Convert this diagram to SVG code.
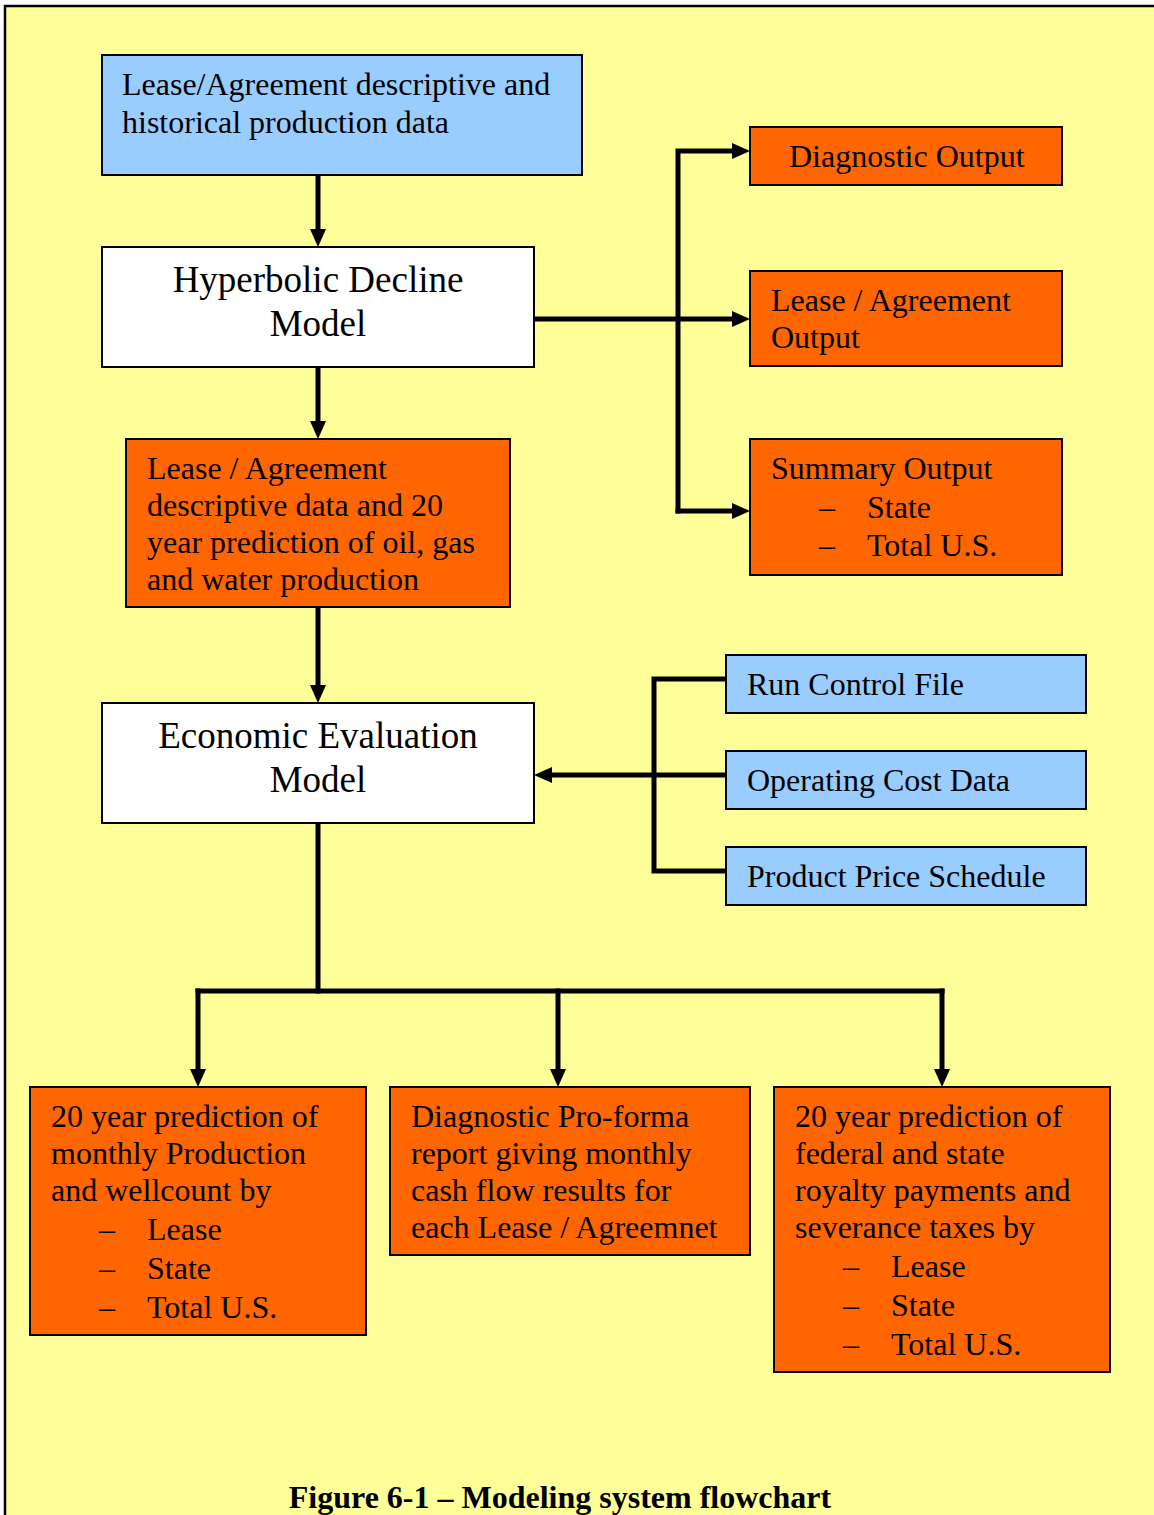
<svg xmlns="http://www.w3.org/2000/svg" width="1154" height="1515" viewBox="0 0 1154 1515">
<style>
.box{stroke:#000;stroke-width:2}
.blue{fill:#99CCFF}
.orange{fill:#FF6600}
.white{fill:#FFFFFF}
text{font-family:"Liberation Serif","Times New Roman",serif;fill:#000}
.t{font-size:32px}
.big{font-size:37px}
.cap{font-size:32px;font-weight:bold}
.conn{fill:none;stroke:#000;stroke-width:5;stroke-linejoin:miter;stroke-linecap:square}
</style>
<defs>
<marker id="ah" viewBox="0 0 18 16" refX="8" refY="8" markerWidth="18" markerHeight="16" markerUnits="userSpaceOnUse" orient="auto">
<path d="M0,0 L18,8 L0,16 z" fill="#000"/>
</marker>
</defs>
<rect x="0" y="0" width="1154" height="1515" fill="#FFFFFF"/>
<rect x="5" y="6" width="1170" height="1530" fill="#FFFF99" stroke="#000" stroke-width="2.5"/>

<g id="connectors">
<path class="conn" d="M318,175 V237" marker-end="url(#ah)"/>
<path class="conn" d="M318,367 V429" marker-end="url(#ah)"/>
<path class="conn" d="M318,607 V693" marker-end="url(#ah)"/>
<path class="conn" d="M534,319 H740" marker-end="url(#ah)"/>
<path class="conn" d="M678,511 V151 H740" marker-end="url(#ah)"/>
<path class="conn" d="M678,511 H740" marker-end="url(#ah)"/>
<path class="conn" d="M726,679 H654 V871 H726"/>
<path class="conn" d="M726,775 H544" marker-end="url(#ah)"/>
<path class="conn" d="M318,823 V991"/>
<path class="conn" d="M198,991 H942"/>
<path class="conn" d="M198,991 V1077" marker-end="url(#ah)"/>
<path class="conn" d="M558,991 V1077" marker-end="url(#ah)"/>
<path class="conn" d="M942,991 V1077" marker-end="url(#ah)"/>
</g>

<g id="n-input">
<rect class="box blue" x="102" y="55" width="480" height="120"/>
<text class="t" x="122" y="95">Lease/Agreement descriptive and</text>
<text class="t" x="122" y="133">historical production data</text>
</g>
<g id="n-hyperbolic">
<rect class="box white" x="102" y="247" width="432" height="120"/>
<text class="big" x="318" y="292" text-anchor="middle">Hyperbolic Decline</text>
<text class="big" x="318" y="336" text-anchor="middle">Model</text>
</g>
<g id="n-prediction">
<rect class="box orange" x="126" y="439" width="384" height="168"/>
<text class="t" x="147" y="479">Lease / Agreement</text>
<text class="t" x="147" y="516">descriptive data and 20</text>
<text class="t" x="147" y="553">year prediction of oil, gas</text>
<text class="t" x="147" y="590">and water production</text>
</g>
<g id="n-economic">
<rect class="box white" x="102" y="703" width="432" height="120"/>
<text class="big" x="318" y="748" text-anchor="middle">Economic Evaluation</text>
<text class="big" x="318" y="792" text-anchor="middle">Model</text>
</g>
<g id="n-diagnostic-output">
<rect class="box orange" x="750" y="127" width="312" height="58"/>
<text class="t" x="789" y="167">Diagnostic Output</text>
</g>
<g id="n-lease-output">
<rect class="box orange" x="750" y="271" width="312" height="95"/>
<text class="t" x="771" y="311">Lease / Agreement</text>
<text class="t" x="771" y="348">Output</text>
</g>
<g id="n-summary-output">
<rect class="box orange" x="750" y="439" width="312" height="136"/>
<text class="t" x="771" y="479">Summary Output</text>
<text class="t" x="819" y="518">–</text>
<text class="t" x="867" y="518">State</text>
<text class="t" x="819" y="556">–</text>
<text class="t" x="867" y="556">Total U.S.</text>
</g>
<g id="n-run-control">
<rect class="box blue" x="726" y="655" width="360" height="58"/>
<text class="t" x="747" y="695">Run Control File</text>
</g>
<g id="n-operating-cost">
<rect class="box blue" x="726" y="751" width="360" height="58"/>
<text class="t" x="747" y="791">Operating Cost Data</text>
</g>
<g id="n-price">
<rect class="box blue" x="726" y="847" width="360" height="58"/>
<text class="t" x="747" y="887">Product Price Schedule</text>
</g>
<g id="n-out-production">
<rect class="box orange" x="30" y="1087" width="336" height="248"/>
<text class="t" x="51" y="1127">20 year prediction of</text>
<text class="t" x="51" y="1164">monthly Production</text>
<text class="t" x="51" y="1201">and wellcount by</text>
<text class="t" x="99" y="1240">–</text>
<text class="t" x="147" y="1240">Lease</text>
<text class="t" x="99" y="1279">–</text>
<text class="t" x="147" y="1279">State</text>
<text class="t" x="99" y="1318">–</text>
<text class="t" x="147" y="1318">Total U.S.</text>
</g>
<g id="n-out-proforma">
<rect class="box orange" x="390" y="1087" width="360" height="168"/>
<text class="t" x="411" y="1127">Diagnostic Pro-forma</text>
<text class="t" x="411" y="1164">report giving monthly</text>
<text class="t" x="411" y="1201">cash flow results for</text>
<text class="t" x="411" y="1238">each Lease / Agreemnet</text>
</g>
<g id="n-out-royalty">
<rect class="box orange" x="774" y="1087" width="336" height="285"/>
<text class="t" x="795" y="1127">20 year prediction of</text>
<text class="t" x="795" y="1164">federal and state</text>
<text class="t" x="795" y="1201">royalty payments and</text>
<text class="t" x="795" y="1238">severance taxes by</text>
<text class="t" x="843" y="1277">–</text>
<text class="t" x="891" y="1277">Lease</text>
<text class="t" x="843" y="1316">–</text>
<text class="t" x="891" y="1316">State</text>
<text class="t" x="843" y="1355">–</text>
<text class="t" x="891" y="1355">Total U.S.</text>
</g>
<text class="cap" x="560" y="1508" text-anchor="middle">Figure 6-1 – Modeling system flowchart</text>
</svg>
